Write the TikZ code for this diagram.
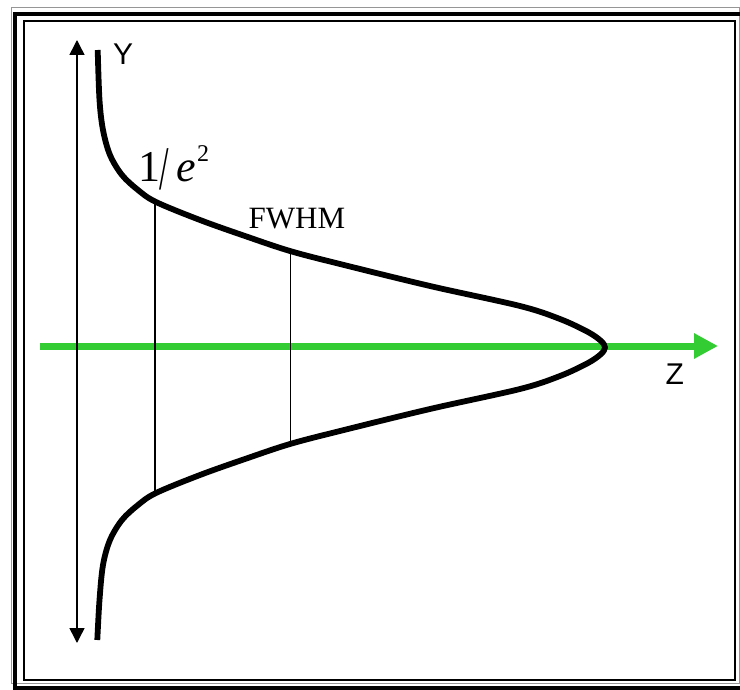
\documentclass[tikz,border=0pt]{standalone}
\usepackage{fontspec}
\setmainfont{Liberation Serif}
\newfontfamily\axisfont{Liberation Sans}
\usetikzlibrary{arrows.meta}
\definecolor{zgreen}{RGB}{51,204,51}
\definecolor{framegray}{RGB}{150,150,150}
\tikzset{
  curveline/.style={line width=5.8pt, line join=round, line cap=butt},
  markline/.style={line width=1.3pt, black},
  yaxis/.style={line width=1.5pt, {Triangle[length=15pt,width=15pt]}-{Triangle[length=15pt,width=15pt]}},
  zaxis/.style={line width=7pt, zgreen, -{Triangle[length=24pt,width=24pt]}},
  axislabel/.style={inner sep=0pt, anchor=base west, font=\axisfont\fontsize{30}{30}\selectfont},
}
\begin{document}
\begin{tikzpicture}[x=1pt,y=-1pt]
\useasboundingbox (0,0) rectangle (740,690);
% frame
\draw[framegray, line width=1.2pt] (11.5,7.5) rectangle (739.4,683.4);
\draw[black, line width=4.5pt] (15,14) rectangle (760,688);
\draw[black, line width=2pt] (24,21) rectangle (734.7,679.7);
% axes
\coordinate (zs) at (40,346);
\coordinate (ze) at (718,346);
\draw[zaxis] (zs) -- (ze);
\coordinate (yt) at (77,40);
\coordinate (yb) at (77,643);
\draw[yaxis] (yt) -- (yb);
% marker lines
\coordinate (e2t) at (155,203);
\coordinate (e2b) at (155,493);
\coordinate (fwt) at (290.7,252);
\coordinate (fwb) at (290.7,444);
\draw[markline] (e2t) -- (e2b);
\draw[markline] (fwt) -- (fwb);
% beam profile
\draw[curveline] plot[smooth, tension=0.55] coordinates {
 (97.7,50) (99.5,100) (103,130) (110,155) (122,175) (138,190) (156,202)
 (200,220) (245,236) (290,251) (340,264) (430,286) (520,306) (560,319)
 (588,332) (601,341) (605,347.5)
 (601,354) (588,363) (560,376) (520,389) (430,409) (340,431) (290,444)
 (245,459) (200,475) (156,493) (138,505) (122,520) (110,540) (103,565)
 (99.5,600) (97.3,640)};
% labels
\node[axislabel] (ylab) at (113,65) {Y};
\node[axislabel] (zlab) at (665.5,384) {Z};
\node[inner sep=0pt, anchor=base west] (e2lab) at (138,182)
  {\fontsize{44}{44}\selectfont 1\kern-1pt\raisebox{-8pt}{\scalebox{0.55}[1]{\fontsize{62}{62}\selectfont /}}\kern8pt\textit{e}\kern1pt\raisebox{20pt}{\fontsize{24}{24}\selectfont 2}};
\node[inner sep=0pt, anchor=base west, font=\fontsize{31}{31}\selectfont] (fwlab) at (248.5,229) {FWHM};
\end{tikzpicture}
\end{document}
